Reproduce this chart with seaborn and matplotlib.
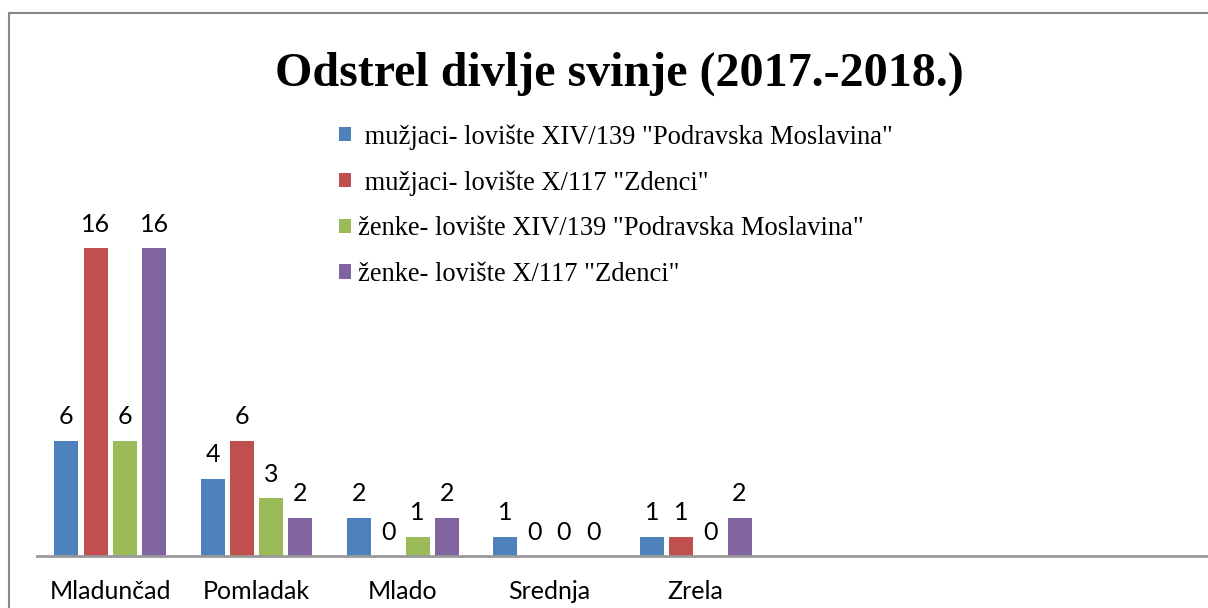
import matplotlib
matplotlib.use("Agg")
import matplotlib.pyplot as plt
import seaborn as sns
import pandas as pd
from matplotlib.patches import Rectangle, Patch

categories = ["Mladunčad", "Pomladak", "Mlado", "Srednja", "Zrela"]
series = [
    ' mužjaci- lovište XIV/139 "Podravska Moslavina"',
    ' mužjaci- lovište X/117 "Zdenci"',
    'ženke- lovište XIV/139 "Podravska Moslavina"',
    'ženke- lovište X/117 "Zdenci"',
]
m_podravska = [6, 4, 2, 1, 1]
m_zdenci = [16, 6, 0, 0, 1]
z_podravska = [6, 3, 1, 0, 0]
z_zdenci = [16, 2, 2, 0, 2]
colors = ["#4F81BD", "#C0504D", "#9BBB59", "#8064A2"]

rows = []
for s, vals in zip(series, [m_podravska, m_zdenci, z_podravska, z_zdenci]):
    for c, v in zip(categories, vals):
        rows.append({"cat": c, "series": s, "value": v})
df = pd.DataFrame(rows)

sns.set_style("white")
plt.rcParams["text.color"] = "black"
plt.rcParams["xtick.color"] = "black"
W, H = 1208, 608
fig = plt.figure(figsize=(W / 100, H / 100), dpi=100)
ax = fig.add_axes([37 / W, 1 - 556 / H, 1 - 37 / W, (556 - 171) / H])

sns.barplot(data=df, x="cat", y="value", hue="series", order=categories,
            hue_order=series, palette=colors, saturation=1, width=0.8,
            gap=0.18, ax=ax, legend=False, linewidth=0)

ax.set_xlim(-0.5, 7.5)
ax.set_ylim(0, 20)
ax.set_xlabel("")
ax.set_ylabel("")
ax.set_yticks([])
for sp in ["top", "right", "left"]:
    ax.spines[sp].set_visible(False)
ax.spines["bottom"].set_color("#999999")
ax.spines["bottom"].set_linewidth(2)
ax.tick_params(axis="x", length=0, pad=17, labelsize=18, labelcolor="black")
for lab in ax.get_xticklabels():
    lab.set_fontfamily("Lato")

for cont in ax.containers:
    ax.bar_label(cont, labels=[f"{int(v)}" for v in cont.datavalues],
                 padding=9, fontsize=18, fontfamily="Lato", color="black")

fig.text(619 / W, 1 - 86 / H, "Odstrel divlje svinje (2017.-2018.)",
         ha="center", va="baseline", fontsize=34.6, fontweight="bold",
         fontfamily="Liberation Serif", color="black")

handles = [Patch(facecolor=c, edgecolor="none") for c in colors]
leg = fig.legend(handles, series, loc="upper left",
                 bbox_to_anchor=(339 / W, 1 - 124 / H), frameon=False,
                 borderpad=0, borderaxespad=0, handlelength=0.45,
                 handleheight=0.45, handletextpad=0.25, labelspacing=0.78,
                 prop={"family": "Liberation Serif", "size": 19.1})
for t in leg.get_texts():
    t.set_color("black")

fig.patches.append(Rectangle((9 / W, -0.1), 1.2, 1 - 13 / H + 0.1,
                             transform=fig.transFigure, fill=False,
                             edgecolor="#888888", linewidth=1.5))

fig.savefig("out.png", dpi=100)
